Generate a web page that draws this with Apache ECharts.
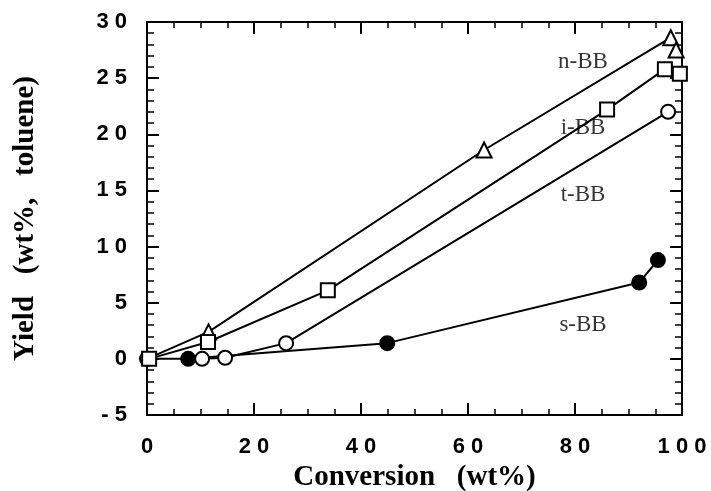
<!DOCTYPE html>
<html>
<head>
<meta charset="utf-8">
<script src="https://cdn.jsdelivr.net/npm/echarts@6/dist/echarts.min.js"></script>
<style>
  html, body { margin: 0; padding: 0; background: #fff; }
  #chart { width: 711px; height: 491px; }
</style>
</head>
<body>
<div id="chart"></div>
<script>
// Conversion (wt%) and toluene yield (wt%) for each butylbenzene isomer
const nBB_x = [0, 11.5, 63, 97.9, 98.9];
const nBB_y = [0, 2.4, 18.6, 28.6, 27.5];
const iBB_x = [0.4, 11.4, 33.8, 86, 96.8, 99.6];
const iBB_y = [0, 1.5, 6.1, 22.2, 25.8, 25.4];
const tBB_x = [0, 10.3, 14.6, 26, 97.4];
const tBB_y = [0, 0, 0.1, 1.4, 22.0];
const sBB_x = [7.7, 44.9, 92, 95.5];
const sBB_y = [0, 1.4, 6.8, 8.8];

// Series names and where their tags sit (data coordinates)
const seriesNames = ['n-BB', 'i-BB', 't-BB', 's-BB'];
const tagX = [81.5, 81.5, 81.5, 81.5];
const tagY = [26.4, 20.6, 14.6, 3.0];

const xTicks = [0, 20, 40, 60, 80, 100];
const yTicks = [-5, 0, 5, 10, 15, 20, 25, 30];

const pairs = (xs, ys) => xs.map((x, i) => [x, ys[i]]);
// tick digits are set apart with spaces
const spaced = s => String(s).split('').join(' ');

const chart = echarts.init(document.getElementById('chart'), null, { renderer: 'canvas' });

const tickLabelFont = { fontFamily: 'Liberation Sans', fontWeight: 'bold', fontSize: 22, color: '#000' };
const titleFont = { fontFamily: 'Liberation Serif', fontWeight: 'bold', fontSize: 29, color: '#000' };

function baseXAxis(pos, showLabels) {
  return {
    type: 'value', position: pos, min: xTicks[0], max: xTicks[xTicks.length - 1], interval: 20,
    axisLine: { show: true, onZero: false, lineStyle: { color: '#000', width: 2 } },
    axisTick: { show: true, inside: true, length: 12, lineStyle: { color: '#000', width: 2 } },
    minorTick: { show: true, splitNumber: 4, length: 6, lineStyle: { color: '#000', width: 1.5 } },
    splitLine: { show: false },
    axisLabel: Object.assign({ show: showLabels, margin: 21, formatter: v => spaced(v) }, tickLabelFont)
  };
}
function baseYAxis(pos, showLabels) {
  return {
    type: 'value', position: pos, min: yTicks[0], max: yTicks[yTicks.length - 1], interval: 5,
    axisLine: { show: true, onZero: false, lineStyle: { color: '#000', width: 2 } },
    axisTick: { show: true, inside: true, length: 12, lineStyle: { color: '#000', width: 2 } },
    minorTick: { show: true, splitNumber: 5, length: 7, lineStyle: { color: '#000', width: 1.5 } },
    splitLine: { show: false },
    axisLabel: Object.assign({
      show: showLabels, margin: 20,
      formatter: v => (v < 0 ? '- ' + Math.abs(v) : spaced(v))
    }, tickLabelFont)
  };
}

const xBottom = baseXAxis('bottom', true);
xBottom.name = 'Conversion   (wt%)';
xBottom.nameLocation = 'middle';
xBottom.nameGap = 47;
xBottom.nameTextStyle = titleFont;

const yLeft = baseYAxis('left', true);
yLeft.name = 'Yield   (wt%,   toluene)';
yLeft.nameLocation = 'middle';
yLeft.nameGap = 107;
yLeft.nameTextStyle = titleFont;

function lineSeries(name, data, symbol, filled, hideFirst) {
  return {
    name, type: 'line', data: data.map((p, i) => (hideFirst && i === 0) ? { value: p, symbol: 'none' } : p),
    symbol, symbolSize: symbol === 'triangle' ? 15 : 14, showSymbol: true,
    lineStyle: { color: '#000', width: 2 },
    itemStyle: { color: filled ? '#000' : '#fff', borderColor: '#000', borderWidth: 2 },
    emphasis: { disabled: true }, animation: false, z: 3
  };
}

const option = {
  backgroundColor: '#fff',
  animation: false,
  grid: { left: 147, right: 29, top: 22, bottom: 76, containLabel: false, outerBoundsMode: 'none' },
  xAxis: [xBottom, baseXAxis('top', false)],
  yAxis: [yLeft, baseYAxis('right', false)],
  series: [
    lineSeries('s-BB', pairs(sBB_x, sBB_y), 'circle', true, false),
    lineSeries('t-BB', pairs(tBB_x, tBB_y), 'circle', false, false),
    lineSeries('n-BB', pairs(nBB_x, nBB_y), 'triangle', false, true),
    lineSeries('i-BB', pairs(iBB_x, iBB_y), 'rect', false, false),
    {
      type: 'scatter', symbolSize: 0, silent: true, z: 2,
      data: seriesNames.map((n, i) => ({ value: [tagX[i], tagY[i]], name: n })),
      label: {
        show: true, position: 'inside', formatter: p => p.name,
        fontFamily: 'Liberation Serif', fontSize: 23, color: '#000'
      }
    }
  ]
};
chart.setOption(option);
</script>
</body>
</html>
